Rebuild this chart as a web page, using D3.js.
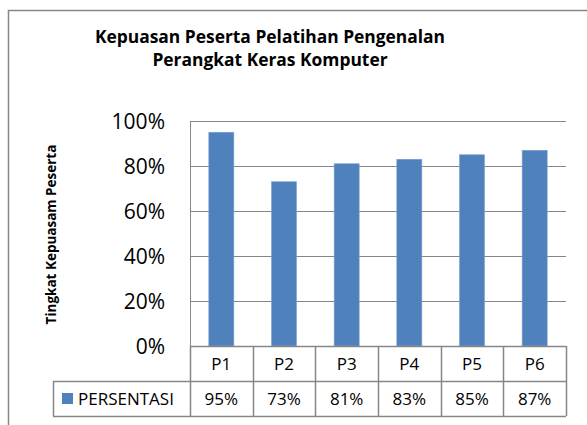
<!DOCTYPE html>
<html lang="en">
<head>
<meta charset="UTF-8">
<title>Kepuasan Peserta</title>
<script src="https://d3js.org/d3.v7.min.js"></script>
<style>
  body { margin: 0; background: #fff; }
  text { font-family: "Open Sans", "Liberation Sans", sans-serif; fill: #000; }
</style>
</head>
<body>
<div id="chart"></div>
<script>

// data
const categories = ["P1", "P2", "P3", "P4", "P5", "P6"];
const values = [0.95, 0.73, 0.81, 0.83, 0.85, 0.87];
const yTicks = [0, 0.2, 0.4, 0.6, 0.8, 1.0];
const seriesName = "PERSENTASI";

const width = 587;
const height = 425;
const gridColor = "#868686";
const barColor = "#4f81bd";

const svg = d3.select("#chart")
  .append("svg")
    .attr("width", width)
    .attr("height", height);

// outer chart frame (extends past the right and bottom edges)
svg.append("rect")
  .attr("x", 8.5).attr("y", 10.5)
  .attr("width", 600).attr("height", 440)
  .attr("fill", "none")
  .attr("stroke", gridColor)
  .attr("stroke-width", 1.5);

// plot area
const plot = { left: 190, right: 566, top: 121, bottom: 346 };

const x = d3.scaleBand()
  .domain(categories)
  .range([plot.left, plot.right])
  .paddingInner(0)
  .paddingOuter(0);

const y = d3.scaleLinear()
  .domain([0, 1])
  .range([plot.bottom, plot.top]);

// gridlines
svg.append("g")
  .selectAll("line")
  .data(yTicks)
  .join("line")
    .attr("x1", plot.left).attr("x2", plot.right)
    .attr("y1", d => Math.round(y(d)) + 0.5)
    .attr("y2", d => Math.round(y(d)) + 0.5)
    .attr("stroke", gridColor)
    .attr("stroke-width", 1.2);

// y axis line
svg.append("line")
  .attr("x1", plot.left + 0.5).attr("x2", plot.left + 0.5)
  .attr("y1", plot.top).attr("y2", plot.bottom)
  .attr("stroke", gridColor);

// y tick labels
svg.append("g")
  .selectAll("text")
  .data(yTicks)
  .join("text")
    .attr("x", 165)
    .attr("y", d => y(d) + 8)
    .attr("text-anchor", "end")
    .style("font-size", "21px")
    .text(d => d3.format(".0%")(d));

// bars
const barW = x.bandwidth() * 0.4;
svg.append("g")
  .selectAll("rect")
  .data(values)
  .join("rect")
    .attr("x", (d, i) => x(categories[i]) + (x.bandwidth() - barW) / 2)
    .attr("y", d => y(d))
    .attr("width", barW)
    .attr("height", d => plot.bottom - y(d))
    .attr("fill", barColor)
    .attr("stroke", "#7fa3d1")
    .attr("stroke-width", 0.6);

// data table below the axis
const rowH = 35;
const tableTop = plot.bottom;
const legendLeft = 53;
const table = svg.append("g");

// horizontal table lines
table.append("line")
  .attr("x1", plot.left).attr("x2", plot.right)
  .attr("y1", tableTop + 0.5).attr("y2", tableTop + 0.5)
  .attr("stroke", gridColor).attr("stroke-width", 1.5);
table.append("line")
  .attr("x1", legendLeft).attr("x2", plot.right)
  .attr("y1", tableTop + rowH + 0.5).attr("y2", tableTop + rowH + 0.5)
  .attr("stroke", gridColor).attr("stroke-width", 1.5);
table.append("line")
  .attr("x1", legendLeft).attr("x2", plot.right)
  .attr("y1", tableTop + 2 * rowH + 0.5).attr("y2", tableTop + 2 * rowH + 0.5)
  .attr("stroke", gridColor).attr("stroke-width", 1.5);

// vertical cell borders
const colEdges = categories.map(c => x(c)).concat([plot.right]);
table.selectAll(".vline")
  .data(colEdges)
  .join("line")
    .attr("class", "vline")
    .attr("x1", d => Math.round(d) + 0.5).attr("x2", d => Math.round(d) + 0.5)
    .attr("y1", tableTop).attr("y2", tableTop + 2 * rowH)
    .attr("stroke", gridColor).attr("stroke-width", 1.5);
table.append("line")
  .attr("x1", legendLeft + 0.5).attr("x2", legendLeft + 0.5)
  .attr("y1", tableTop + rowH).attr("y2", tableTop + 2 * rowH)
  .attr("stroke", gridColor).attr("stroke-width", 1.5);

// category labels
table.selectAll(".cat")
  .data(categories)
  .join("text")
    .attr("class", "cat")
    .attr("x", d => x(d) + x.bandwidth() / 2)
    .attr("y", tableTop + rowH / 2 + 6)
    .attr("text-anchor", "middle")
    .style("font-size", "17px")
    .text(d => d);

// value labels
table.selectAll(".val")
  .data(values)
  .join("text")
    .attr("class", "val")
    .attr("x", (d, i) => x(categories[i]) + x.bandwidth() / 2)
    .attr("y", tableTop + rowH * 1.5 + 6)
    .attr("text-anchor", "middle")
    .style("font-size", "17px")
    .text(d => d3.format(".0%")(d));

// legend key
table.append("rect")
  .attr("x", 62).attr("y", tableTop + rowH * 1.5 - 5.5)
  .attr("width", 11).attr("height", 11)
  .attr("fill", barColor);
table.append("text")
  .attr("x", 78)
  .attr("y", tableTop + rowH * 1.5 + 6)
  .style("font-size", "17px")
  .text(seriesName);

// title
const title = svg.append("text")
  .attr("text-anchor", "middle")
  .style("font-size", "17.4px")
  .style("font-weight", "bold");
title.append("tspan").attr("x", 270).attr("y", 43).text("Kepuasan Peserta Pelatihan Pengenalan");
title.append("tspan").attr("x", 270).attr("y", 66).text("Perangkat Keras Komputer");

// y axis title
svg.append("text")
  .attr("transform", "translate(55.5,234.5) rotate(-90)")
  .attr("text-anchor", "middle")
  .style("font-size", "13.5px")
  .style("font-weight", "bold")
  .text("Tingkat Kepuasam Peserta");

</script>
</body>
</html>
